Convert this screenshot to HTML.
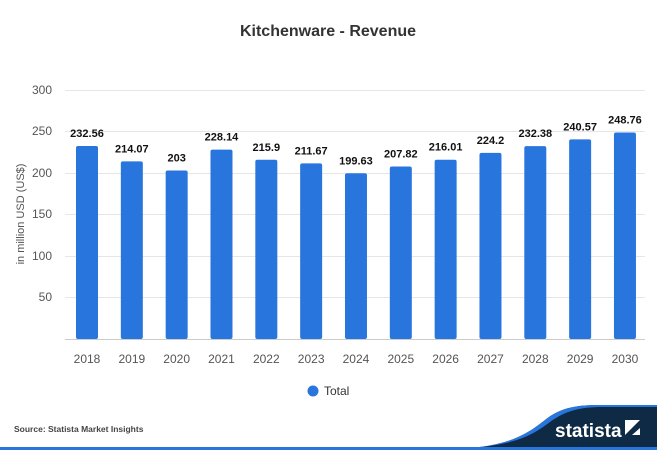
<!DOCTYPE html>
<html><head><style>
body{margin:0;background:#fff;}
svg{display:block;font-family:"Liberation Sans",sans-serif;}
</style></head><body>
<svg width="657" height="450" xmlns="http://www.w3.org/2000/svg">
<rect width="657" height="450" fill="#fff"/>
<text x="328" y="36" text-anchor="middle" font-size="16" font-weight="bold" fill="#333">Kitchenware - Revenue</text>
<g stroke="#e6e6e6" stroke-width="1">
<line x1="65" x2="645" y1="90.5" y2="90.5"/>
<line x1="65" x2="645" y1="131.5" y2="131.5"/>
<line x1="65" x2="645" y1="173.5" y2="173.5"/>
<line x1="65" x2="645" y1="214.5" y2="214.5"/>
<line x1="65" x2="645" y1="256.5" y2="256.5"/>
<line x1="65" x2="645" y1="297.5" y2="297.5"/>
</g>
<line x1="65" x2="645" y1="339.5" y2="339.5" stroke="#ccc"/>
<g font-size="12" fill="#555" text-anchor="end">
<text x="52" y="94">300</text><text x="52" y="135">250</text><text x="52" y="177">200</text>
<text x="52" y="218">150</text><text x="52" y="260">100</text><text x="52" y="301">50</text>
</g>
<text transform="translate(24,214) rotate(-90)" text-anchor="middle" font-size="11" fill="#555">in million USD (US$)</text>
<g id="bars"></g>
<circle cx="313" cy="391" r="5.5" fill="#2876dd"/>
<text x="324" y="395" font-size="12" fill="#333">Total</text>
<text x="14" y="432" font-size="8.5" font-weight="bold" fill="#444">Source: Statista Market Insights</text>
<path d="M440,450 C500,448 520,440 545,420 C560,408 575,405 600,405 L657,405 L657,450 Z" fill="#0e2a45"/>
<path d="M440,450 C500,448 520,440 545,420 C560,408 575,405 600,405 L657,405 L657,407 L602,407 C580,407 565,411 550,422 C525,441 505,447 440,450 Z" fill="#2876dd"/>
<rect x="0" y="447" width="657" height="3" fill="#2876dd"/>
<text x="555" y="437" font-size="19" font-weight="bold" fill="#fff">statista</text>
<rect x="625" y="420" width="15" height="15" fill="#fff"/>
<path d="M625,435 L640,420 L640,428 L632,435 Z" fill="#0e2a45"/>
</svg>
<script>
var d=[232.56,214.07,203,228.14,215.9,211.67,199.63,207.82,216.01,224.2,232.38,240.57,248.76];
var g=document.getElementById('bars'),s='';
d.forEach(function(v,i){var cx=87+i*44.83,h=v*0.83,y=339-h;
s+='<rect x="'+(cx-11)+'" y="'+y+'" width="22" height="'+h+'" rx="2" fill="#2876dd"/>';
s+='<text x="'+cx+'" y="'+(y-9)+'" text-anchor="middle" font-size="11" font-weight="bold" fill="#111">'+v+'</text>';
s+='<text x="'+cx+'" y="363" text-anchor="middle" font-size="12" fill="#555">'+(2018+i)+'</text>';});
g.innerHTML=s;
</script>
</body></html>
